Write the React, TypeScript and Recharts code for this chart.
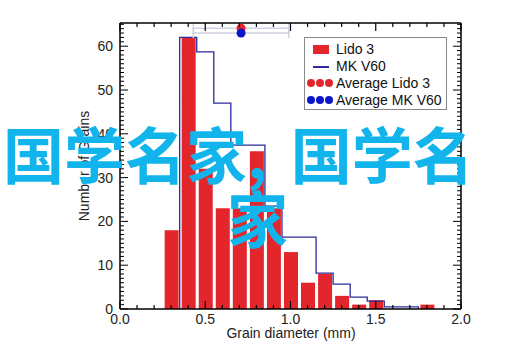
import { ComposedChart, Bar, Line, Scatter, XAxis, YAxis, ErrorBar } from "recharts";

// Lido 3 histogram (bin centres, mm)
const binCenters = [0.3, 0.4, 0.5, 0.6, 0.7, 0.8, 0.9, 1.0, 1.1, 1.2, 1.3, 1.4, 1.5, 1.6, 1.7, 1.8];
const lido3Counts = [18, 62, 32, 23, 23, 36, 23, 13, 6, 8, 3, 1, 2, 0, 0, 1];

// MK V60 step outline (bin edges, mm)
const mkEdges = [0.35, 0.35, 0.45, 0.55, 0.65, 0.75, 0.85, 0.95, 1.05, 1.15, 1.25, 1.35, 1.45, 1.55, 1.65, 1.75];
const mkV60Counts = [0, 62, 58.7, 47, 37.4, 37.4, 23.5, 16.4, 16.4, 8.2, 5.7, 2.7, 1.8, 0.5, 0.5, 0];

// averages with x error
const avgLido3 = [{ d: 0.71, y: 64.1, err: 0.28 }];
const avgMkV60 = [{ d: 0.71, y: 63.0, err: 0.28 }];

const xTicks = Array.from({ length: 21 }, (_, i) => i / 10);
const yTicks = Array.from({ length: 66 }, (_, i) => i);

const barData = binCenters.map((d, i) => ({ d, lido3: lido3Counts[i] }));
const stepData = mkEdges.map((d, i) => ({ d, mk: mkV60Counts[i] }));

const FONT = "'Liberation Sans', Arial, sans-serif";
const RED = "#e3262b";
const NAVY = "#2b2b9c";
const BLUE = "#0b16c8";
const CJK = "'Noto Sans CJK SC', sans-serif";

function BottomTick(props: any) {
  const { x, y, payload } = props;
  const major = Math.round(payload.value * 10) % 5 === 0;
  return (
    <g>
      <line x1={x} x2={x} y1={y} y2={y - (major ? 8 : 4)} stroke="#000" strokeWidth={1.2} />
      {major && (
        <text x={x} y={y + 15} textAnchor="middle" fontFamily={FONT} fontSize={14} fill="#222">
          {payload.value.toFixed(1)}
        </text>
      )}
    </g>
  );
}

function TopTick(props: any) {
  const { x, y, payload } = props;
  const major = Math.round(payload.value * 10) % 5 === 0;
  return <line x1={x} x2={x} y1={y} y2={y + (major ? 8 : 4)} stroke="#000" strokeWidth={1.2} />;
}

function LeftTick(props: any) {
  const { x, y, payload } = props;
  const major = payload.value % 10 === 0;
  return (
    <g>
      <line x1={x} x2={x + (major ? 8 : 4)} y1={y} y2={y} stroke="#000" strokeWidth={1} />
      {major && (
        <text x={x - 7} y={y} dy="0.35em" textAnchor="end" fontFamily={FONT} fontSize={14} fill="#222">
          {payload.value}
        </text>
      )}
    </g>
  );
}

function RightTick(props: any) {
  const { x, y, payload } = props;
  const major = payload.value % 10 === 0;
  return <line x1={x} x2={x - (major ? 8 : 4)} y1={y} y2={y} stroke="#000" strokeWidth={1} />;
}

const dots = (color: string) =>
  [0, 1, 2].map((k) => (
    <span key={k} style={{ position: "absolute", left: 2 + k * 9, top: 5, width: 8, height: 8, borderRadius: 4, background: color }} />
  ));

const row = (top: number, marker: any, label: string) => (
  <div style={{ position: "absolute", left: 0, top, width: 141, height: 18 }}>
    {marker}
    <span style={{ position: "absolute", left: 31, top: 0, lineHeight: "18px", whiteSpace: "nowrap" }}>{label}</span>
  </div>
);

export default function App() {
  const axisLine = { stroke: "#000", strokeWidth: 1.5 };
  return (
    <div style={{ position: "absolute", left: 0, top: 0, width: 515, height: 359, background: "#fff", fontFamily: FONT }}>
      <ComposedChart width={515} height={359} data={barData} margin={{ top: 13, right: 34, bottom: 20, left: 80 }}>
        <XAxis dataKey="d" type="number" domain={[0, 2]} ticks={xTicks} interval={0} height={30}
          tickSize={0} tickMargin={0} tickLine={false} axisLine={axisLine} tick={<BottomTick />} allowDataOverflow />
        <XAxis xAxisId="top" dataKey="d" orientation="top" type="number" domain={[0, 2]} ticks={xTicks} interval={0} height={10}
          tickSize={0} tickMargin={0} tickLine={false} axisLine={axisLine} tick={<TopTick />} allowDataOverflow />
        <YAxis type="number" domain={[0, 65.3]} ticks={yTicks} interval={0} width={40}
          tickSize={0} tickMargin={0} tickLine={false} axisLine={axisLine} tick={<LeftTick />} allowDataOverflow />
        <YAxis yAxisId="right" orientation="right" type="number" domain={[0, 65.3]} ticks={yTicks} interval={0} width={20}
          tickSize={0} tickMargin={0} tickLine={false} axisLine={axisLine} tick={<RightTick />} allowDataOverflow />
        <Bar dataKey="lido3" fill={RED} barSize={14} isAnimationActive={false} />
        <Line xAxisId="top" data={stepData} dataKey="mk" type="stepAfter" stroke={NAVY} strokeWidth={1.3}
          dot={false} isAnimationActive={false} />
        <Scatter xAxisId="top" data={avgLido3} dataKey="y" fill={RED} isAnimationActive={false}>
          <ErrorBar dataKey="err" direction="x" width={5} stroke="#d2d2e2" strokeWidth={1.5} />
        </Scatter>
        <Scatter xAxisId="top" data={avgMkV60} dataKey="y" fill={BLUE} isAnimationActive={false}>
          <ErrorBar dataKey="err" direction="x" width={5} stroke="#d2d2e2" strokeWidth={1.5} />
        </Scatter>
      </ComposedChart>

      <div style={{ position: "absolute", left: 84, top: 166, fontSize: 14, color: "#222", whiteSpace: "nowrap",
        transform: "translate(-50%, -50%) rotate(-90deg)" }}>
        Number of Grains
      </div>
      <div style={{ position: "absolute", left: 191, top: 325, width: 200, textAlign: "center", fontSize: 14, color: "#222" }}>
        Grain diameter (mm)
      </div>

      <div style={{ position: "absolute", left: 304, top: 37, width: 141, height: 71, border: "1px solid #888",
        background: "#fff", fontSize: 14, color: "#111" }}>
        {row(2, <span style={{ position: "absolute", left: 8, top: 5, width: 16, height: 9, background: RED }} />, "Lido 3")}
        {row(19, <span style={{ position: "absolute", left: 8, top: 9, width: 16, height: 1.5, background: NAVY }} />, "MK V60")}
        {row(36, dots(RED), "Average Lido 3")}
        {row(53, dots(BLUE), "Average MK V60")}
      </div>

      <div style={{ position: "absolute", left: 3, top: 122, fontFamily: CJK, fontWeight: 700,
        fontSize: 61, lineHeight: "61px", color: "#12b4ec", whiteSpace: "nowrap" }}>
        国学名家<span style={{ letterSpacing: 24 }}>,</span>国学名
      </div>
      <div style={{ position: "absolute", left: 227, top: 186, fontFamily: CJK, fontWeight: 700,
        fontSize: 61, lineHeight: "61px", color: "#12b4ec", whiteSpace: "nowrap" }}>
        家
      </div>
    </div>
  );
}
